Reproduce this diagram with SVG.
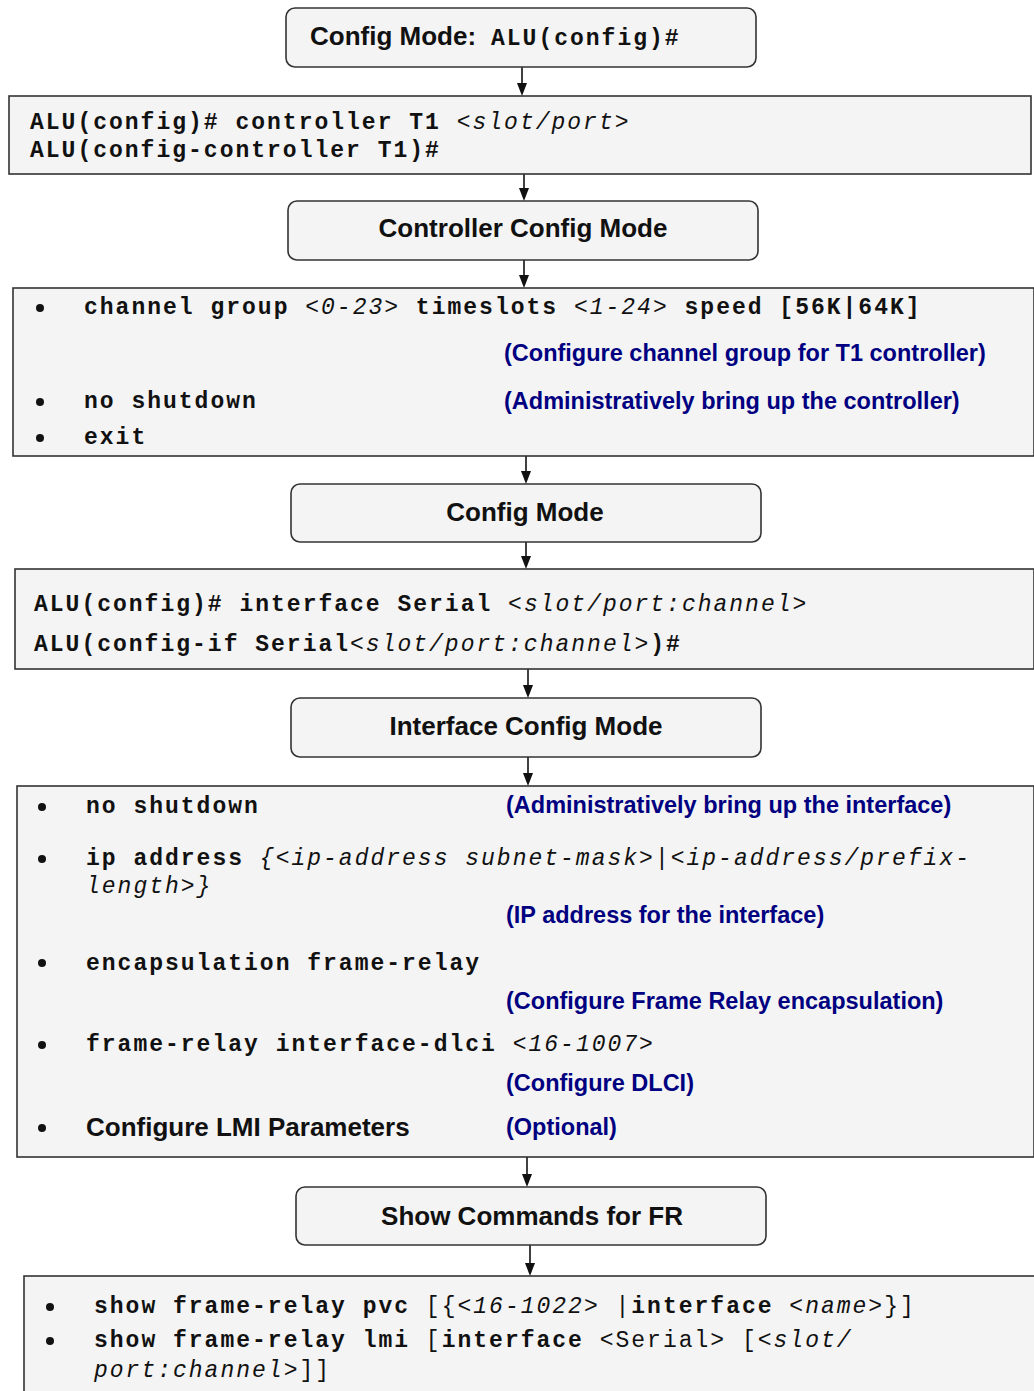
<svg xmlns="http://www.w3.org/2000/svg" width="1034" height="1391" viewBox="0 0 1034 1391">
  <style>
    .mode { fill: #f4f4f4; stroke: #333; stroke-width: 1.6; }
    .cmd { fill: #f4f4f4; stroke: #333; stroke-width: 1.6; }
    .title { font-family: "Liberation Sans", Arial, sans-serif; font-size: 26px; font-weight: bold; fill: #111; }
    .m { font-family: "Liberation Mono", "Courier New", monospace; font-size: 23px; font-weight: bold; letter-spacing: 2px; fill: #111; }
    .i { font-style: italic; font-weight: normal; }
    .r { font-weight: normal; }
    .note { font-family: "Liberation Sans", Arial, sans-serif; font-size: 23.5px; font-weight: bold; fill: #000080; }
    .dot { fill: #111; }
    .conn line { stroke: #111; stroke-width: 1.6; }
  </style>
  <rect width="1034" height="1391" fill="#fff"/>

  <!-- connectors between the stacked steps -->
  <g id="connectors" class="conn">
    <line x1="522" y1="67" x2="522" y2="84"/>
    <path d="M517,83 L527,83 L522,96 Z" fill="#111"/>
    <line x1="524" y1="174" x2="524" y2="189"/>
    <path d="M519,188 L529,188 L524,201 Z" fill="#111"/>
    <line x1="524" y1="260" x2="524" y2="276"/>
    <path d="M519,275 L529,275 L524,288 Z" fill="#111"/>
    <line x1="526" y1="456" x2="526" y2="472"/>
    <path d="M521,471 L531,471 L526,484 Z" fill="#111"/>
    <line x1="526" y1="542" x2="526" y2="557"/>
    <path d="M521,556 L531,556 L526,569 Z" fill="#111"/>
    <line x1="528" y1="669" x2="528" y2="686"/>
    <path d="M523,685 L533,685 L528,698 Z" fill="#111"/>
    <line x1="528" y1="757" x2="528" y2="774"/>
    <path d="M523,773 L533,773 L528,786 Z" fill="#111"/>
    <line x1="527" y1="1157" x2="527" y2="1175"/>
    <path d="M522,1174 L532,1174 L527,1187 Z" fill="#111"/>
    <line x1="530" y1="1245" x2="530" y2="1264"/>
    <path d="M525,1263 L535,1263 L530,1276 Z" fill="#111"/>
  </g>

  <g id="config-mode-top">
    <rect class="mode" x="286" y="8" width="470" height="59" rx="9"/>
    <text class="title" x="310" y="45">Config Mode: <tspan class="m" x="491">ALU(config)#</tspan></text>
  </g>

  <g id="controller-cmd">
    <rect class="cmd" x="9" y="96" width="1022" height="78"/>
    <text class="m" x="30" y="129">ALU(config)# controller T1 <tspan class="i">&lt;slot/port&gt;</tspan></text>
    <text class="m" x="30" y="157">ALU(config-controller T1)#</text>
  </g>

  <g id="controller-config-mode">
    <rect class="mode" x="288" y="201" width="470" height="59" rx="9"/>
    <text class="title" x="523" y="237" text-anchor="middle">Controller Config Mode</text>
  </g>

  <g id="controller-steps">
    <rect class="cmd" x="13" y="288" width="1021" height="168"/>
    <circle class="dot" cx="40" cy="308" r="4"/>
    <text class="m" x="84" y="314">channel group <tspan class="i">&lt;0-23&gt;</tspan> timeslots <tspan class="i">&lt;1-24&gt;</tspan> speed [56K|64K]</text>
    <text class="note" x="504" y="361">(Configure channel group for T1 controller)</text>
    <circle class="dot" cx="40" cy="402" r="4"/>
    <text class="m" x="84" y="408">no shutdown</text>
    <text class="note" x="504" y="409">(Administratively bring up the controller)</text>
    <circle class="dot" cx="40" cy="438" r="4"/>
    <text class="m" x="84" y="444">exit</text>
  </g>

  <g id="config-mode">
    <rect class="mode" x="291" y="484" width="470" height="58" rx="9"/>
    <text class="title" x="525" y="521" text-anchor="middle">Config Mode</text>
  </g>

  <g id="serial-cmd">
    <rect class="cmd" x="15" y="569" width="1019" height="100"/>
    <text class="m" x="34" y="611">ALU(config)# interface Serial <tspan class="i">&lt;slot/port:channel&gt;</tspan></text>
    <text class="m" x="34" y="651">ALU(config-if Serial<tspan class="i">&lt;slot/port:channel&gt;</tspan>)#</text>
  </g>

  <g id="interface-config-mode">
    <rect class="mode" x="291" y="698" width="470" height="59" rx="9"/>
    <text class="title" x="526" y="735" text-anchor="middle">Interface Config Mode</text>
  </g>

  <g id="interface-steps">
    <rect class="cmd" x="17" y="786" width="1017" height="371"/>
    <circle class="dot" cx="42" cy="807" r="4"/>
    <text class="m" x="86" y="813">no shutdown</text>
    <text class="note" x="506" y="813">(Administratively bring up the interface)</text>
    <circle class="dot" cx="42" cy="859" r="4"/>
    <text class="m" x="86" y="865">ip address <tspan class="i">{&lt;ip-address subnet-mask&gt;|&lt;ip-address/prefix-</tspan></text>
    <text class="m i" x="86" y="893">length&gt;}</text>
    <text class="note" x="506" y="923">(IP address for the interface)</text>
    <circle class="dot" cx="42" cy="963" r="4"/>
    <text class="m" x="86" y="970">encapsulation frame-relay</text>
    <text class="note" x="506" y="1009">(Configure Frame Relay encapsulation)</text>
    <circle class="dot" cx="42" cy="1045" r="4"/>
    <text class="m" x="86" y="1051">frame-relay interface-dlci <tspan class="i">&lt;16-1007&gt;</tspan></text>
    <text class="note" x="506" y="1091">(Configure DLCI)</text>
    <circle class="dot" cx="42" cy="1128" r="4"/>
    <text class="title" x="86" y="1136">Configure LMI Parameters</text>
    <text class="note" x="506" y="1135">(Optional)</text>
  </g>

  <g id="show-commands-mode">
    <rect class="mode" x="296" y="1187" width="470" height="58" rx="9"/>
    <text class="title" x="532" y="1225" text-anchor="middle">Show Commands for FR</text>
  </g>

  <g id="show-commands">
    <rect class="cmd" x="24" y="1276" width="1020" height="130"/>
    <circle class="dot" cx="50" cy="1307" r="4"/>
    <text class="m" x="94" y="1313">show frame-relay pvc <tspan class="r">[{</tspan><tspan class="i">&lt;16-1022&gt;</tspan><tspan class="r"> |</tspan>interface <tspan class="i">&lt;name&gt;</tspan><tspan class="r">}]</tspan></text>
    <circle class="dot" cx="50" cy="1341" r="4"/>
    <text class="m" x="94" y="1347">show frame-relay lmi <tspan class="r">[</tspan>interface <tspan class="r">&lt;Serial&gt; [</tspan><tspan class="i">&lt;slot/</tspan></text>
    <text class="m" x="94" y="1377"><tspan class="i">port:channel&gt;</tspan><tspan class="r">]]</tspan></text>
  </g>
</svg>
